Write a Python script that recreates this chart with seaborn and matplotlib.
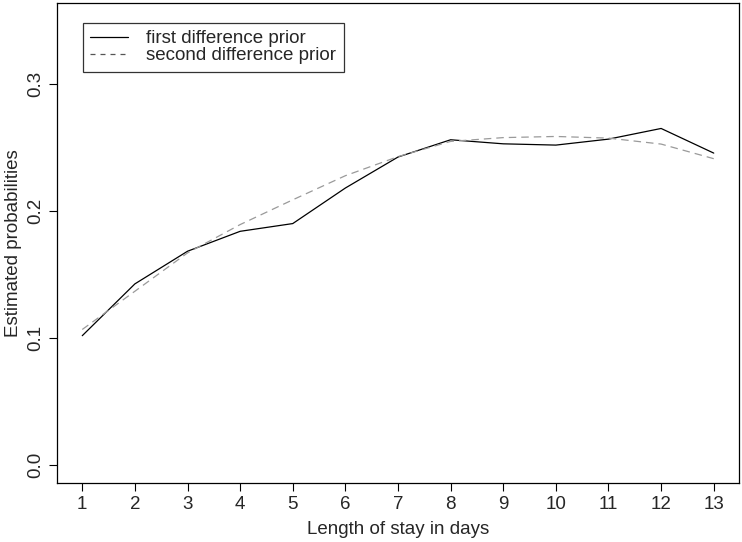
import matplotlib
matplotlib.use("Agg")
import matplotlib.pyplot as plt
import seaborn as sns
import pandas as pd

days = list(range(1, 14))
first_diff = [0.102, 0.1428, 0.1685, 0.1842, 0.1903, 0.2183, 0.2427,
              0.2563, 0.2531, 0.2521, 0.2568, 0.2652, 0.2458]
second_diff = [0.1069, 0.1370, 0.1672, 0.1895, 0.2090, 0.2280, 0.2430,
               0.2550, 0.2580, 0.2589, 0.2576, 0.2529, 0.2414]
series_names = ["first difference prior", "second difference prior"]
y_ticks = [0.0, 0.1, 0.2, 0.3]

df = pd.DataFrame({
    "day": days * 2,
    "prob": first_diff + second_diff,
    "series": [series_names[0]] * len(days) + [series_names[1]] * len(days),
})

sns.set_style("white")
plt.rcParams['font.family'] = ['Liberation Sans', 'DejaVu Sans']
FS = 13.5

fig = plt.figure(figsize=(7.42, 5.42), dpi=100)
ax = fig.add_axes([57 / 742, 1 - 483 / 542, (739 - 57) / 742, (483 - 3) / 542])

sns.lineplot(data=df, x="day", y="prob", hue="series", style="series",
             palette={series_names[0]: "black", series_names[1]: "#9a9a9a"},
             dashes={series_names[0]: "", series_names[1]: (6, 4)},
             linewidth=0.9, ax=ax, legend=False)

ax.set_xlim(0.52, 13.48)
ax.set_ylim(-0.014, 0.364)
ax.set_xticks(days)
ax.set_xticklabels([str(d) for d in days], fontsize=FS)
ax.set_yticks(y_ticks)
ax.set_yticklabels([f"{v:.1f}" for v in y_ticks], fontsize=FS, rotation=90, va="center")
ax.tick_params(axis="both", direction="out", length=6, width=0.8, color="black",
               bottom=True, left=True, pad=3.5)
ax.set_xlabel("Length of stay in days", fontsize=FS, va="center")
ax.set_ylabel("Estimated probabilities", fontsize=FS, va="center")
ax.xaxis.set_label_coords(0.5, -(530 - 483) / 480)
ax.yaxis.set_label_coords(-(57 - 13) / 682, 0.5)
for s in ax.spines.values():
    s.set_color("black")
    s.set_linewidth(0.9)

from matplotlib.lines import Line2D
handles = [Line2D([], [], color="black", lw=0.9),
           Line2D([], [], color="#555555", lw=0.9, dashes=(4, 4))]
leg = ax.legend(handles, series_names, loc="upper left",
                bbox_to_anchor=((82.7 - 57) / 682, 1 - (22.7 - 3) / 480),
                frameon=True, fancybox=False, edgecolor="black", fontsize=FS,
                handlelength=2.0, handletextpad=1.0, borderpad=0.4,
                labelspacing=0.0, borderaxespad=0)
leg.get_frame().set_linewidth(0.9)

fig.savefig("out.png", dpi=100)
